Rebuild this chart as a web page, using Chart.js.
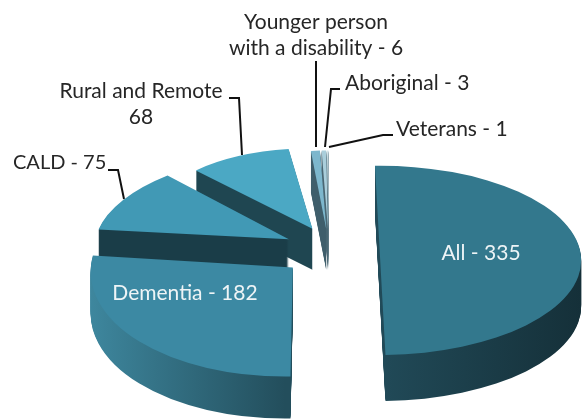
<!DOCTYPE html>
<html>
<head>
<meta charset="utf-8">
<style>
  html, body { margin: 0; padding: 0; background: #fff; }
  #wrap { width: 586px; height: 419px; }
</style>
<script src="https://cdn.jsdelivr.net/npm/chart.js@4"></script>
</head>
<body>
<div id="wrap"><canvas id="myChart" width="586" height="419"></canvas></div>
<script>
const categories = ['All', 'Dementia', 'CALD', 'Rural and Remote', 'Younger person with a disability', 'Aboriginal', 'Veterans'];
const values = [335, 182, 75, 68, 6, 3, 1];
const topColors = ['#33788d', '#3c89a3', '#4199b5', '#4ba8c4', '#7db7cd', '#aacedb', '#d4e5eb'];
const wallLeft = ['#214a58', '#3e879e', '#1a3d48', '#1f4651', '#3f5e6b', '#4a6773', '#5a7681'];
const wallRight = ['#153039', '#234e5c', '#1a3d48', '#1f4651', '#3f5e6b', '#4a6773', '#5a7681'];

// the squashed "3D" look, all in screen pixels
const centerX = 330, centerY = 249;
const radiusX = 202, radiusY = 95;
const explode = 0.25;      // slice shift as a share of the radius
// fake the perspective of the original per slice
const sliceLift = [12, 0, 0, -2, 0, 0, 0];
const sliceShear = [0, -0.07, -0.18, 0.05, -0.05, -0.05, -0.05];
const sliceWiden = [1, 1, 1.05, 1, 1, 1, 1];
const sliceDepth = [46, 42, 42, 41, 41, 41, 41];

const darkLabels = [
  { lines: ['Younger person', 'with a disability - 6'], x: 316, y: 22, align: 'center' },
  { lines: ['Aboriginal - 3'], x: 345, y: 83, align: 'left' },
  { lines: ['Veterans - 1'], x: 396, y: 129, align: 'left' },
  { lines: ['Rural and Remote', '68'], x: 141, y: 91, align: 'center' },
  { lines: ['CALD - 75'], x: 13, y: 163, align: 'left', size: 20 }
];
const lightLabels = [
  { lines: ['All - 335'], x: 481, y: 253, align: 'center' },
  { lines: ['Dementia - 182'], x: 185, y: 293, align: 'center' }
];
const leaders = [
  [[316, 61], [316, 147]],
  [[340, 89], [331, 89], [325, 147]],
  [[393, 135], [383, 135], [329, 147]],
  [[229, 98], [239, 98], [242, 155]],
  [[108, 170], [118, 170], [124, 199]]
];

function placeSlice (ctx, arc, i) {
  const mid = (arc.startAngle + arc.endAngle) / 2;
  const front = Math.sin(mid);
  const R = arc.outerRadius;
  const rx = radiusX * Math.min(1, 1 + 0.2 * front);
  const ry = radiusY * (1 + (front > 0 ? 0.22 : 0.17) * front);
  // the library's own offset option eats thin slices, so explode here
  ctx.translate(centerX + Math.cos(mid) * explode * rx, centerY + sliceLift[i] + Math.sin(mid) * explode * ry);
  ctx.transform(1, 0, sliceShear[i], 1, 0, 0);
  ctx.scale(rx * sliceWiden[i] / R, ry / R);
  ctx.translate(-arc.x, -arc.y);
}

const pie3d = {
  id: 'pie3d',
  beforeDatasetDraw (chart) {
    const ctx = chart.ctx;
    const arcs = chart.getDatasetMeta(0).data;
    // back to front: small slices first, the big ones last
    for (let i = arcs.length - 1; i >= 0; i--) {
      const arc = arcs[i];
      const saved = arc.options;
      const mid = (arc.startAngle + arc.endAngle) / 2;
      const x0 = Math.cos(mid) > 0 ? arc.x : arc.x - arc.outerRadius;
      const wall = ctx.createLinearGradient(x0, 0, x0 + arc.outerRadius, 0);
      wall.addColorStop(0, wallLeft[i]);
      wall.addColorStop(1, wallRight[i]);

      arc.options = Object.assign({}, saved, { backgroundColor: wall });
      for (let k = sliceDepth[i]; k >= 1; k--) {
        ctx.save();
        ctx.translate(0, k);
        placeSlice(ctx, arc, i);
        arc.draw(ctx);
        ctx.restore();
      }
      arc.options = saved;

      ctx.save();
      placeSlice(ctx, arc, i);
      arc.draw(ctx);
      ctx.restore();
    }
    return false;
  },
  afterDraw (chart) {
    const ctx = chart.ctx;
    ctx.save();
    ctx.strokeStyle = '#111';
    ctx.lineWidth = 2;
    leaders.forEach(pts => {
      ctx.beginPath();
      pts.forEach((p, n) => n ? ctx.lineTo(p[0], p[1]) : ctx.moveTo(p[0], p[1]));
      ctx.stroke();
    });
    ctx.textBaseline = 'middle';
    const put = (list, color) => {
      ctx.fillStyle = color;
      list.forEach(l => {
        ctx.font = (l.size || 21) + 'px Lato';
        ctx.textAlign = l.align;
        l.lines.forEach((t, n) => ctx.fillText(t, l.x, l.y + n * 26));
      });
    };
    put(darkLabels, '#262626');
    put(lightLabels, '#eef4f6');
    ctx.restore();
  }
};

new Chart(document.getElementById('myChart').getContext('2d'), {
  type: 'pie',
  data: {
    labels: categories,
    datasets: [{
      data: values,
      backgroundColor: topColors,
      borderWidth: 0
    }]
  },
  options: {
    responsive: false,
    animation: false,
    rotation: -1.5,
    plugins: { legend: { display: false }, tooltip: { enabled: false } }
  },
  plugins: [pie3d]
});
</script>
</body>
</html>
